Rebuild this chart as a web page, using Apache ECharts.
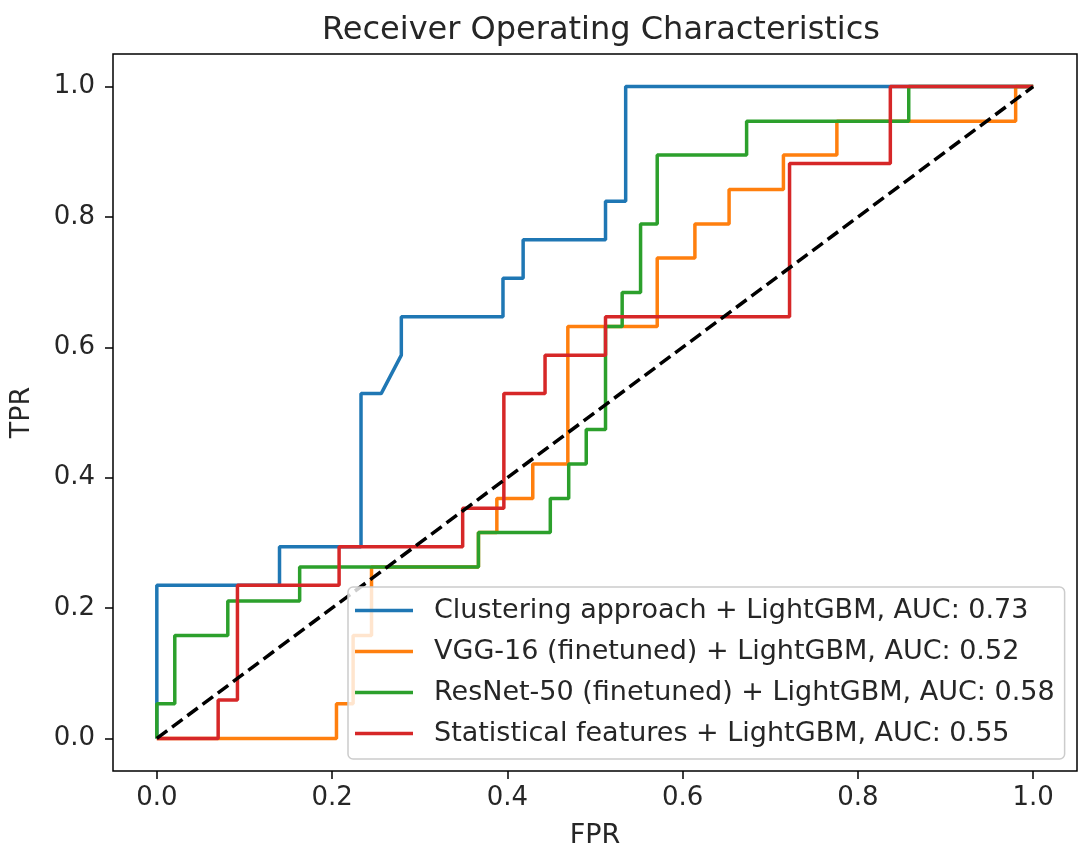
<!DOCTYPE html>
<html>
<head>
<meta charset="utf-8">
<script src="https://cdn.jsdelivr.net/npm/echarts@6/dist/echarts.min.js"></script>
<style>
  html, body { margin: 0; padding: 0; background: #fff; }
  #chart { width: 1081px; height: 854px; }
</style>
</head>
<body>
<div id="chart"></div>
<script>
// axis ticks
const tickValues = [0, 0.2, 0.4, 0.6, 0.8, 1.0];

// series names (legend labels)
const names = [
  "Clustering approach + LightGBM, AUC: 0.73",
  "VGG-16 (finetuned) + LightGBM, AUC: 0.52",
  "ResNet-50 (finetuned) + LightGBM, AUC: 0.58",
  "Statistical features + LightGBM, AUC: 0.55"
];
const colors = ["#1f77b4", "#ff7f0e", "#2ca02c", "#d62728"];

// ROC points
const clusterFpr = [0, 0, 0.140, 0.140, 0.233, 0.233, 0.256, 0.279, 0.279, 0.395, 0.395, 0.418, 0.418, 0.512, 0.512, 0.535, 0.535, 1.0];
const clusterTpr = [0, 0.235, 0.235, 0.294, 0.294, 0.529, 0.529, 0.588, 0.647, 0.647, 0.706, 0.706, 0.765, 0.765, 0.824, 0.824, 1.0, 1.0];

const vggFpr = [0, 0.205, 0.205, 0.224, 0.224, 0.245, 0.245, 0.367, 0.367, 0.388, 0.388, 0.429, 0.429, 0.469, 0.469, 0.571, 0.571, 0.614, 0.614, 0.653, 0.653, 0.715, 0.715, 0.776, 0.776, 0.980, 0.980, 1.0];
const vggTpr = [0, 0, 0.053, 0.053, 0.158, 0.158, 0.263, 0.263, 0.316, 0.316, 0.368, 0.368, 0.421, 0.421, 0.632, 0.632, 0.737, 0.737, 0.789, 0.789, 0.842, 0.842, 0.895, 0.895, 0.947, 0.947, 1.0, 1.0];

const resnetFpr = [0, 0, 0.0205, 0.0205, 0.081, 0.081, 0.163, 0.163, 0.367, 0.367, 0.449, 0.449, 0.470, 0.470, 0.490, 0.490, 0.512, 0.512, 0.531, 0.531, 0.552, 0.552, 0.571, 0.571, 0.673, 0.673, 0.858, 0.858, 1.0];
const resnetTpr = [0, 0.053, 0.053, 0.158, 0.158, 0.211, 0.211, 0.263, 0.263, 0.316, 0.316, 0.368, 0.368, 0.421, 0.421, 0.474, 0.474, 0.632, 0.632, 0.684, 0.684, 0.789, 0.789, 0.895, 0.895, 0.947, 0.947, 1.0, 1.0];

const statFpr = [0, 0.070, 0.070, 0.092, 0.092, 0.208, 0.208, 0.349, 0.349, 0.396, 0.396, 0.443, 0.443, 0.512, 0.512, 0.722, 0.722, 0.837, 0.837, 1.0];
const statTpr = [0, 0, 0.059, 0.059, 0.235, 0.235, 0.294, 0.294, 0.353, 0.353, 0.529, 0.529, 0.588, 0.588, 0.647, 0.647, 0.882, 0.882, 1.0, 1.0];

const chanceFpr = [0, 1];
const chanceTpr = [0, 1];

const zip = (xs, ys) => xs.map((x, i) => [x, ys[i]]);
const curves = [
  zip(clusterFpr, clusterTpr),
  zip(vggFpr, vggTpr),
  zip(resnetFpr, resnetTpr),
  zip(statFpr, statTpr)
];

const font = "DejaVu Sans";
const textColor = "#262626";

const axisCommon = {
  min: -0.05,
  max: 1.05,
  splitLine: { show: false },
  axisLine: { show: false, onZero: false },
  axisTick: {
    show: true, inside: false, length: 8, customValues: tickValues,
    lineStyle: { color: "#000", width: 1.5 }
  },
  nameLocation: "middle",
  nameTextStyle: { fontFamily: font, fontSize: 27, color: textColor }
};

const chart = echarts.init(document.getElementById("chart"), null, { renderer: "canvas" });

chart.setOption({
  animation: false,
  backgroundColor: "#fff",
  title: {
    text: "Receiver Operating Characteristics",
    left: 596,
    textAlign: "center",
    top: 10,
    textStyle: { fontFamily: font, fontSize: 32, fontWeight: "normal", color: textColor }
  },
  grid: {
    left: 113, top: 54, right: 4, bottom: 81,
    show: true, borderColor: "#000", borderWidth: 1.5
  },
  legend: {
    data: names,
    orient: "vertical",
    left: 348,
    top: 587,
    icon: "rect",
    itemWidth: 58,
    itemHeight: 3.5,
    itemGap: 14,
    padding: [10, 10, 12, 7],
    backgroundColor: "rgba(255,255,255,0.8)",
    borderColor: "#cccccc",
    borderWidth: 1.5,
    borderRadius: 5,
    textStyle: {
      fontFamily: font, fontSize: 27, lineHeight: 27, color: textColor,
      padding: [0, 0, 0, 16]
    }
  },
  xAxis: Object.assign({}, axisCommon, {
    type: "value",
    name: "FPR",
    nameGap: 51,
    axisLabel: {
      customValues: tickValues, margin: 14,
      fontFamily: font, fontSize: 26, color: textColor,
      formatter: v => v.toFixed(1)
    }
  }),
  yAxis: Object.assign({}, axisCommon, {
    type: "value",
    name: "TPR",
    nameGap: 78,
    nameRotate: 90,
    axisLabel: {
      customValues: tickValues, margin: 18,
      fontFamily: font, fontSize: 26, color: textColor,
      formatter: v => v.toFixed(1)
    }
  }),
  series: curves.map((pts, i) => ({
    name: names[i],
    type: "line",
    data: pts,
    showSymbol: false,
    symbol: "none",
    lineStyle: { color: colors[i], width: 3.5 },
    itemStyle: { color: colors[i] },
    z: 2 + i * 0.01
  })).concat([{
    name: "chance",
    type: "line",
    data: zip(chanceFpr, chanceTpr),
    showSymbol: false,
    symbol: "none",
    lineStyle: { color: "#000", width: 3.5, type: [13, 6] },
    z: 3
  }])
});
</script>
</body>
</html>
